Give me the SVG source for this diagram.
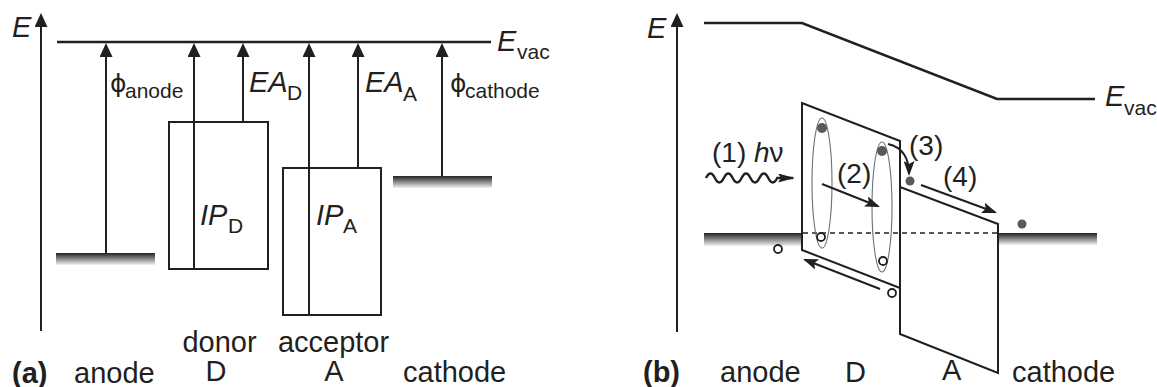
<svg xmlns="http://www.w3.org/2000/svg" width="1157" height="387" viewBox="0 0 1157 387">
<style>
.t{font-family:"Liberation Sans",Arial,sans-serif;font-size:29px;fill:#231f20}
.i{font-style:italic}
.s{font-size:21px}
.b{font-weight:bold}
.p{font-size:28px}
.phi{font-family:"DejaVu Sans",sans-serif;font-size:25px;fill:#231f20}
.ln{stroke:#231f20;stroke-width:2;fill:none}
.wave{stroke:#231f20;stroke-width:2.4;fill:none}
.vac{stroke:#231f20;stroke-width:2.5;fill:none}
.ell{stroke:#6d6e70;stroke-width:1.1;fill:none}
.el{fill:#58595b}
.h{fill:#fff;stroke:#231f20;stroke-width:1.8}
.dash{stroke:#231f20;stroke-width:1.6;stroke-dasharray:5 4;fill:none}
</style>
<defs>
<linearGradient id="metal" x1="0" y1="0" x2="0" y2="1">
<stop offset="0" stop-color="#222"/>
<stop offset="1" stop-color="#f2f2f2"/>
</linearGradient>
<marker id="ah" viewBox="0 0 14 13" markerWidth="14" markerHeight="13" refX="12" refY="6.5" orient="auto" markerUnits="userSpaceOnUse">
<path d="M0,0 L14,6.5 L0,13 z" fill="#231f20"/>
</marker>
<marker id="ah2" viewBox="0 0 15 11" markerWidth="15" markerHeight="11" refX="13" refY="5.5" orient="auto" markerUnits="userSpaceOnUse">
<path d="M0,0 L15,5.5 L0,11 L3,5.5 z" fill="#231f20"/>
</marker>
<marker id="ahs" viewBox="0 0 17 9" markerWidth="17" markerHeight="9" refX="15" refY="4.5" orient="auto" markerUnits="userSpaceOnUse">
<path d="M0,0 L17,4.5 L0,9 L3,4.5 z" fill="#231f20"/>
</marker>
</defs>

<!-- Panel (a) -->
<g id="a-vacuum"><line class="vac" x1="57" y1="42" x2="491" y2="42"/>
<text class="t i" x="497" y="51">E</text><text class="t s" x="517" y="59">vac</text></g>
<g id="a-anode"><rect x="56" y="253" width="99" height="12" fill="url(#metal)"/></g>
<g id="a-cathode"><rect x="393" y="176" width="99" height="12" fill="url(#metal)"/></g>
<g id="a-donor"><rect class="ln" x="169" y="122" width="99" height="147"/>
<text class="t i" x="200" y="225">IP</text><text class="t s" x="228" y="233">D</text></g>
<g id="a-acceptor"><rect class="ln" x="283" y="168" width="98" height="147"/>
<text class="t i" x="316" y="225">IP</text><text class="t s" x="343" y="233">A</text></g>
<g id="a-labels">
<text class="t i" x="12" y="37">E</text>
<text class="phi" x="110" y="92">ϕ</text><text class="t s" x="125" y="98">anode</text>
<text class="t i" x="249" y="92">EA</text><text class="t s" x="287" y="100">D</text>
<text class="t i" x="365" y="92">EA</text><text class="t s" x="403" y="101">A</text>
<text class="phi" x="450" y="92">ϕ</text><text class="t s" x="465" y="98">cathode</text>
<text class="t b" x="12" y="383">(a)</text>
<text class="t" x="74" y="383">anode</text>
<text class="t" text-anchor="middle"><tspan x="219.5" y="352">donor</tspan><tspan x="216" y="381">D</tspan></text>
<text class="t" text-anchor="middle"><tspan x="333.5" y="352">acceptor</tspan><tspan x="334" y="381">A</tspan></text>
<text class="t" x="403" y="382">cathode</text>
</g>

<!-- Panel (b) -->
<g id="b-vacuum"><polyline class="vac" points="704,23 802,23 997,99 1095,99"/>
<text class="t i" x="1105" y="106">E</text><text class="t s" x="1124" y="115">vac</text></g>
<g id="b-anode"><rect x="704" y="233" width="98" height="13" fill="url(#metal)"/></g>
<g id="b-cathode"><rect x="998" y="233" width="99" height="12" fill="url(#metal)"/></g>
<g id="b-donor"><polygon class="ln" points="900,141 802,103 802,250 900,288"/></g>
<g id="b-acceptor"><polygon class="ln" points="900,141 900,334 998,373 998,224 900,187"/></g>
<g id="b-fermi"><line class="dash" x1="803" y1="233" x2="997" y2="233"/></g>
<g id="b-excitons">
<ellipse class="ell" cx="822" cy="183" rx="10" ry="65"/>
<ellipse class="ell" cx="882" cy="207" rx="10" ry="65"/>
</g>
<g id="b-electrons">
<circle class="el" cx="822" cy="128" r="5"/>
<circle class="el" cx="882" cy="151" r="5"/>
<circle class="el" cx="910" cy="181" r="4.5"/>
<circle class="el" cx="1022" cy="224" r="4.5"/>
</g>
<g id="b-holes">
<circle class="h" cx="821" cy="237" r="4"/>
<circle class="h" cx="883" cy="261" r="4"/>
<circle class="h" cx="892" cy="293" r="4"/>
<circle class="h" cx="778" cy="249" r="4"/>
</g>
<g id="b-labels">
<text class="t i" x="647" y="38">E</text>
<text class="t p" x="712" y="162">(1) <tspan class="i">h</tspan>ν</text>
<text class="t p" x="837" y="183">(2)</text>
<text class="t p" x="909" y="155">(3)</text>
<text class="t p" x="943" y="186">(4)</text>
<text class="t b" x="643" y="382">(b)</text>
<text class="t" x="720" y="382">anode</text>
<text class="t" x="845" y="382">D</text>
<text class="t" x="942" y="380">A</text>
<text class="t" x="1012" y="382">cathode</text>
</g>

<g id="connectors">
<line class="ln" x1="41" y1="331" x2="41" y2="15" marker-end="url(#ah)"/>
<line class="ln" x1="106" y1="253" x2="106" y2="45" marker-end="url(#ah)"/>
<line class="ln" x1="194" y1="269" x2="194" y2="45" marker-end="url(#ah)"/>
<line class="ln" x1="243" y1="122" x2="243" y2="45" marker-end="url(#ah)"/>
<line class="ln" x1="309" y1="315" x2="309" y2="45" marker-end="url(#ah)"/>
<line class="ln" x1="358" y1="168" x2="358" y2="45" marker-end="url(#ah)"/>
<line class="ln" x1="442" y1="176" x2="442" y2="45" marker-end="url(#ah)"/>
<line class="ln" x1="677" y1="332" x2="677" y2="15" marker-end="url(#ah)"/>
<path class="wave" d="M706,178 q4.45,-9 8.9,0 t8.9,0 t8.9,0 t8.9,0 t8.9,0 t8.9,0 t8.9,0 t8.9,0 L793,178" marker-end="url(#ahs)"/>
<line class="ln" x1="822" y1="184" x2="878.1" y2="206.3" marker-end="url(#ah2)"/>
<path class="ln" d="M888,144 C901,147 909,156 909,174" marker-end="url(#ah2)"/>
<line class="ln" x1="921" y1="185" x2="995.1" y2="212.3" marker-end="url(#ah2)"/>
<line class="ln" x1="880" y1="289" x2="804.9" y2="259.7" marker-end="url(#ah2)"/>
</g>
</svg>
